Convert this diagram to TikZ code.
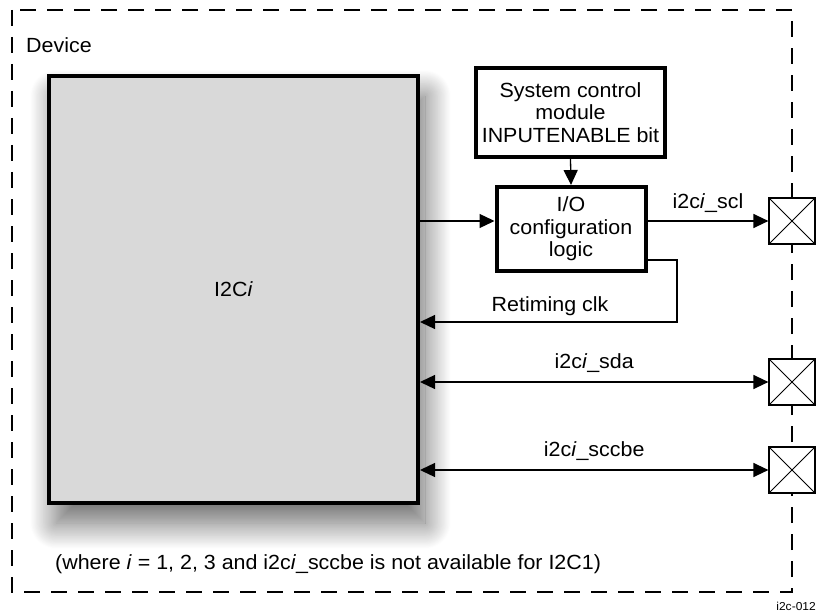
\documentclass[tikz,border=0pt]{standalone}
\usepackage{fontspec}
\setmainfont{Liberation Sans}[FakeStretch=1.045]
\usetikzlibrary{arrows.meta,shadows.blur}

\tikzset{
  blk/.style={draw=black,line width=4pt,fill=white,align=center,inner sep=0pt},
  pad/.style={draw=black,line width=1.2pt,fill=white,minimum size=46pt,inner sep=0pt,
    path picture={\draw[line width=0.9pt]
      (path picture bounding box.south west) -- (path picture bounding box.north east)
      (path picture bounding box.north west) -- (path picture bounding box.south east);}},
  sig/.style={line width=1.3pt,-{Triangle[length=15pt,width=14pt]}},
  bisig/.style={line width=1.3pt,{Triangle[length=15pt,width=14pt]}-{Triangle[length=15pt,width=14pt]}},
  lbl/.style={inner sep=0pt}
}

\begin{document}
\begin{tikzpicture}[x=1pt,y=-1pt,font=\fontsize{20.5}{22.5}\selectfont]
\useasboundingbox (0,0) rectangle (817,615);
% device frame
\draw[line width=2.5pt,dash pattern=on 16pt off 11pt] (12,10) rectangle (792,592);
\node[lbl,anchor=west] (dev) at (26,45) {Device};
% blocks
\node[blk,fill=black!15,minimum width=369pt,minimum height=427pt,
  blur shadow={shadow xshift=7pt,shadow yshift=-20pt,shadow blur radius=26pt,
    shadow blur steps=30,shadow opacity=60}]
  (i2c) at (233.5,289.5) {I2C\textit{i}};
\node[blk,minimum width=189pt,minimum height=89pt] (scm) at (570.5,112.5)
  {System control\\module\\INPUTENABLE bit};
\node[blk,minimum width=149pt,minimum height=84pt] (iocfg) at (571,229)
  {I/O\\configuration\\logic};
% pads
\node[pad] (padscl) at (792,221) {};
\node[pad] (padsda) at (792,382) {};
\node[pad] (padsccbe) at (792,470) {};
% connectors
\draw[sig] (scm.south) -- (iocfg.north);
\draw[sig] (i2c.east |- padscl) -- (iocfg.west |- padscl);
\draw[sig] (iocfg.east |- padscl) -- (padscl.west)
  node[lbl,midway,above=8pt] (scllbl) {i2c\textit{i}\_scl};
\coordinate (rtbend) at (677,322);
\draw[sig] ([yshift=13pt]iocfg.south east) -| (rtbend) -- (i2c.east |- rtbend);
\node[lbl] (rtlbl) at (550,306) {Retiming clk};
\draw[bisig] (i2c.east |- padsda) -- (padsda.west)
  node[lbl,midway,above=9pt] (sdalbl) {i2c\textit{i}\_sda};
\draw[bisig] (i2c.east |- padsccbe) -- (padsccbe.west)
  node[lbl,midway,above=9pt] (sccbelbl) {i2c\textit{i}\_sccbe};
% notes
\node[lbl,anchor=west] (note) at (55,564)
  {(where \textit{i} = 1, 2, 3 and i2c\textit{i}\_sccbe is not available for I2C1)};
\node[lbl,anchor=east,font=\fontsize{11.5}{13}\selectfont] (figid) at (816,606) {i2c-012};
\end{tikzpicture}
\end{document}
